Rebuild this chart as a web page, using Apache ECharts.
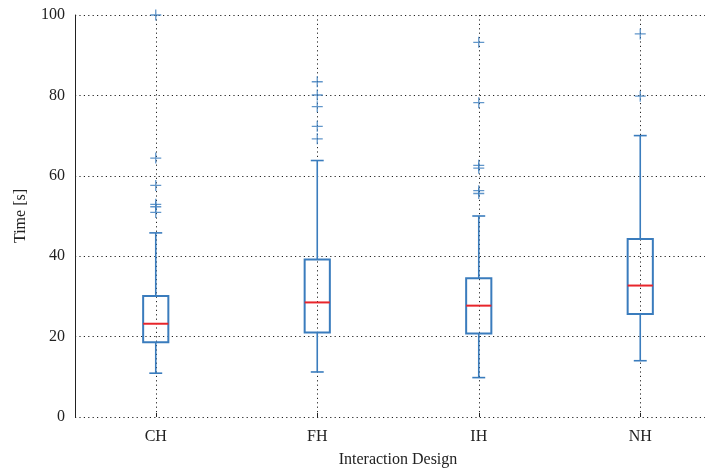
<!DOCTYPE html>
<html>
<head>
<meta charset="utf-8">
<script src="https://cdn.jsdelivr.net/npm/echarts@6/dist/echarts.min.js"></script>
<style>
  html, body { margin: 0; padding: 0; background: #fff; overflow: hidden; }
  body { width: 705px; height: 473px; }
  #chart { width: 721px; height: 473px; }
</style>
</head>
<body>
<div id="chart"></div>
<script>
// Task completion time per interaction design (box = quartiles, red = median)
const categories = ['CH', 'FH', 'IH', 'NH'];
const whiskerLow  = [10.9, 11.2, 9.8, 14.0];
const quartile1   = [18.6, 21.0, 20.8, 25.6];
const medians     = [23.2, 28.5, 27.7, 32.7];
const quartile3   = [30.1, 39.2, 34.5, 44.3];
const whiskerHigh = [45.8, 63.8, 50.0, 70.0];
const outliersCH = [100, 64.4, 57.6, 52.9, 52.3, 50.9];
const outliersFH = [83.4, 80.1, 77.2, 72.3, 69.2];
const outliersIH = [93.2, 78.2, 62.6, 61.9, 56.3, 55.6];
const outliersNH = [95.3, 79.8];
const yTicks = [0, 20, 40, 60, 80, 100];

const BLUE = '#3a7cbd';
const RED = '#e8252b';
const FONT = '"Liberation Serif", "DejaVu Serif", serif';

const boxData = categories.map((c, i) =>
  [i, whiskerLow[i], quartile1[i], medians[i], quartile3[i], whiskerHigh[i]]);

const outlierData = [];
[outliersCH, outliersFH, outliersIH, outliersNH].forEach((list, i) => {
  list.forEach(v => outlierData.push([i, v]));
});

function renderBox(params, api) {
  const i = api.value(0);
  const band = api.size([1, 0])[0];
  const halfBox = band * 0.078;
  const halfCap = band * 0.04;
  const pLo = api.coord([i, api.value(1)]);
  const pQ1 = api.coord([i, api.value(2)]);
  const pMed = api.coord([i, api.value(3)]);
  const pQ3 = api.coord([i, api.value(4)]);
  const pHi = api.coord([i, api.value(5)]);
  const x = pQ1[0];
  const line = (x1, y1, x2, y2, color, w) => ({
    type: 'line',
    shape: { x1, y1, x2, y2 },
    style: { stroke: color, lineWidth: w }
  });
  return {
    type: 'group',
    children: [
      line(x, pQ3[1], x, pHi[1], BLUE, 1.6),
      line(x, pQ1[1], x, pLo[1], BLUE, 1.6),
      line(x - halfCap, pHi[1], x + halfCap, pHi[1], BLUE, 1.6),
      line(x - halfCap, pLo[1], x + halfCap, pLo[1], BLUE, 1.6),
      {
        type: 'rect',
        shape: { x: x - halfBox, y: pQ3[1], width: halfBox * 2, height: pQ1[1] - pQ3[1] },
        style: { fill: 'none', stroke: BLUE, lineWidth: 2 }
      },
      line(x - halfBox, pMed[1], x + halfBox, pMed[1], RED, 2)
    ]
  };
}

const chart = echarts.init(document.getElementById('chart'), null, { renderer: 'canvas' });
chart.setOption({
  animation: false,
  backgroundColor: '#ffffff',
  grid: { left: 75, right: 0, top: 15, bottom: 55 },
  xAxis: {
    type: 'category',
    data: categories,
    boundaryGap: true,
    name: 'Interaction Design',
    nameLocation: 'middle',
    nameGap: 35,
    nameTextStyle: { fontFamily: FONT, fontSize: 16, color: '#222' },
    axisLine: { show: false },
    axisTick: { show: true, inside: true, length: 4, alignWithLabel: true, lineStyle: { color: '#222' } },
    axisLabel: { fontFamily: FONT, fontSize: 16, color: '#222', margin: 12 },
    splitLine: {
      show: true,
      alignWithLabel: true,
      lineStyle: { color: '#222', type: [1.2, 3.2], width: 1 }
    }
  },
  yAxis: {
    type: 'value',
    min: yTicks[0],
    max: yTicks[yTicks.length - 1],
    interval: 20,
    name: 'Time [s]',
    nameLocation: 'middle',
    nameRotate: 90,
    nameGap: 46,
    nameTextStyle: { fontFamily: FONT, fontSize: 16, color: '#222' },
    axisLine: { show: true, lineStyle: { color: '#222', width: 1 } },
    axisTick: { show: false },
    axisLabel: { fontFamily: FONT, fontSize: 16, color: '#222', margin: 10 },
    splitLine: { show: true, lineStyle: { color: '#222', type: [1.2, 3.2], width: 1 } }
  },
  series: [
    {
      type: 'custom',
      renderItem: renderBox,
      data: boxData,
      encode: { x: 0, y: [1, 2, 3, 4, 5] },
      z: 3
    },
    {
      type: 'scatter',
      data: outlierData,
      symbol: 'path://M0,5L10,5M5,0L5,10',
      symbolSize: 11,
      itemStyle: { color: 'none', borderColor: BLUE, borderWidth: 1.3 },
      z: 4
    }
  ]
});
</script>
</body>
</html>
